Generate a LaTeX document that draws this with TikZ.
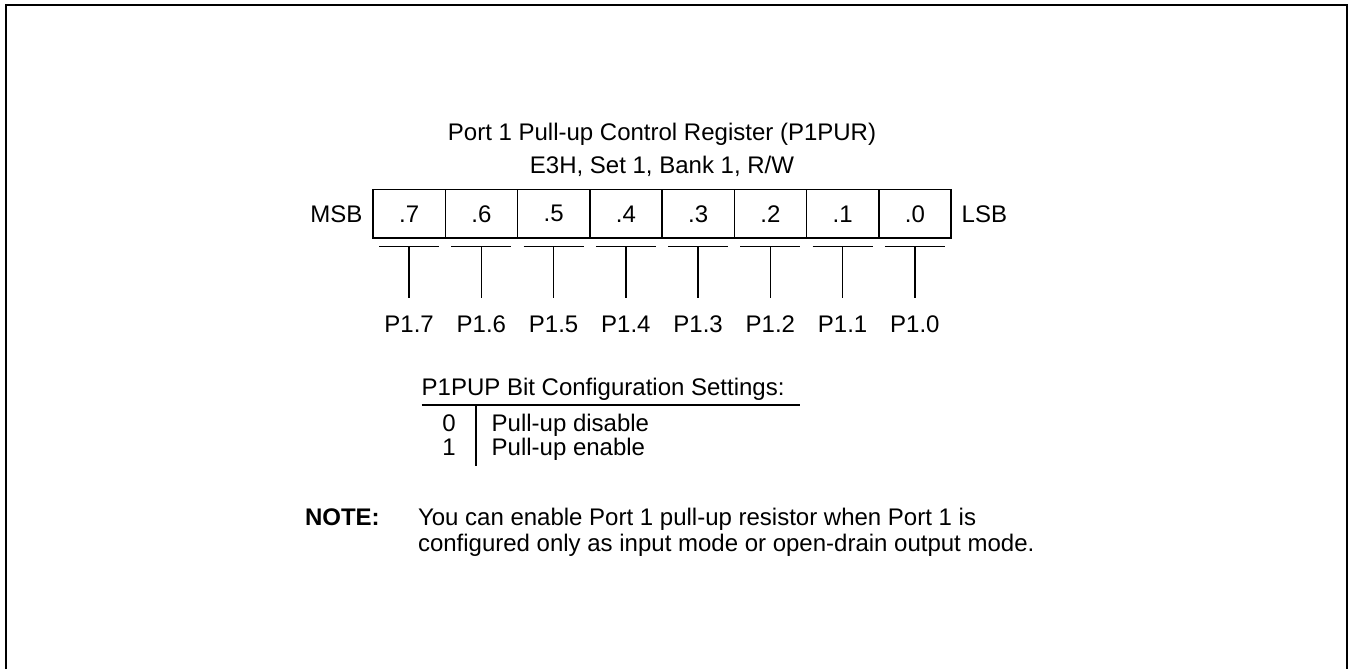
\documentclass[tikz,border=0pt]{standalone}
\usepackage{fontspec}
\setmainfont{Liberation Sans}
\begin{document}
\begin{tikzpicture}[x=1pt,y=-1pt,
  every node/.style={inner sep=0pt, outer sep=0pt, font=\fontsize{24}{28}\selectfont},
  cell/.style={draw, line width=1.5pt, minimum width=72.25pt, minimum height=48.5pt},
  lead/.style={line width=1.3pt},
  txt/.style={anchor=base west},
  ctxt/.style={anchor=base}]
\useasboundingbox (0,0) rectangle (1348,669);
% frame (open at bottom)
\draw[line width=2pt] (6,669) -- (6,5) -- (1346.5,5) -- (1346.5,669);
% title
\node[ctxt] (title1) at (662,140) {Port 1 Pull-up Control Register (P1PUR)};
\node[ctxt] (title2) at (662,173) {E3H, Set 1, Bank 1, R/W};
% register cells
\foreach \i/\b in {0/7,1/6,2/5,3/4,4/3,5/2,6/1,7/0}{
  \node[cell] (c\b) at ({409.125+72.25*\i},213.75) {.\b};
  \coordinate (bl\b) at ({409.125+72.25*\i-30},246.7);
  \coordinate (br\b) at ({409.125+72.25*\i+30},246.7);
  \coordinate (t\b) at ({409.125+72.25*\i},246.7);
  \coordinate (e\b) at ({409.125+72.25*\i},298.3);
  \node[ctxt] (p\b) at ({409.125+72.25*\i},332) {P1.\b};
  \draw[lead] (bl\b) -- (br\b);
  \draw[lead] (t\b) -- (e\b);
}
\node[anchor=east] (msb) at (362.3,213.75) {MSB};
\node[anchor=west] (lsb) at (961.7,213.75) {LSB};
% configuration settings
\node[txt] (cfg) at (421.7,395) {P1PUP Bit Configuration Settings:};
\coordinate (ul1) at (421.7,405);
\coordinate (ul2) at (800,405);
\draw[lead] (ul1) -- (ul2);
\coordinate (vb1) at (476,405);
\coordinate (vb2) at (476,466);
\draw[lead] (vb1) -- (vb2);
\node[ctxt] (v0) at (449,431.7) {0};
\node[txt] (d0) at (491.7,431.7) {Pull-up disable};
\node[ctxt] (v1) at (449,455) {1};
\node[txt] (d1) at (491.7,455) {Pull-up enable};
% note
\node[txt, font=\fontsize{24}{28}\selectfont\bfseries] (note) at (305,525) {NOTE:};
\node[txt] (n1) at (418,525) {You can enable Port 1 pull-up resistor when Port 1 is};
\node[txt] (n2) at (418,551) {configured only as input mode or open-drain output mode.};
\end{tikzpicture}
\end{document}
